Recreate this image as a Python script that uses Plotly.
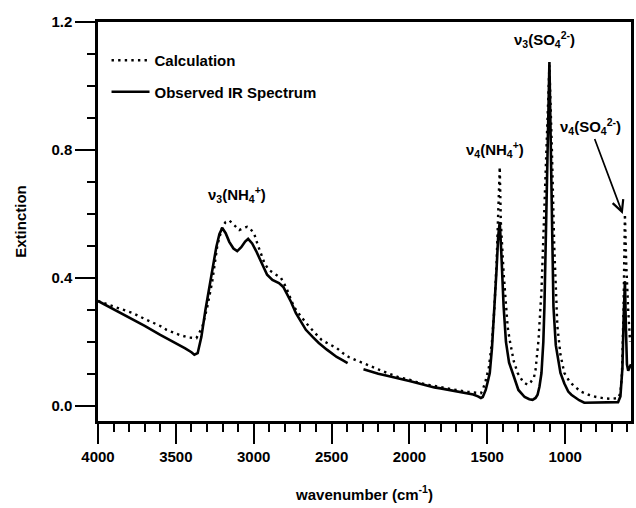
import plotly.graph_objects as go

# Wavenumber grid (cm^-1) and extinction for the measured spectrum.
# A None value leaves the gap around 2350 cm^-1 (CO2 region removed).
obs_wn = [4000, 3900, 3800, 3700, 3600, 3500, 3440, 3400, 3381, 3360, 3336, 3310,
          3285, 3260, 3240, 3220, 3202, 3180, 3157, 3130, 3106, 3080, 3055, 3036,
          3010, 2985, 2966, 2940, 2914, 2880, 2838, 2810, 2793, 2760, 2729, 2700,
          2665, 2620, 2582, 2530, 2467, 2430, 2397, 2350, 2295, 2250, 2200, 2150,
          2100, 2071, 2040, 2000, 1950, 1900, 1880, 1840, 1800, 1750, 1700, 1660,
          1625, 1590, 1560, 1541, 1529, 1510, 1495, 1484, 1470, 1460, 1452, 1440,
          1430, 1420, 1410, 1395, 1380, 1360, 1337, 1300, 1260, 1230, 1209, 1190,
          1177, 1165, 1152, 1140, 1133, 1120, 1110, 1101, 1090, 1075, 1060, 1045,
          1030, 1005, 980, 960, 941, 910, 877, 820, 760, 700, 660, 645, 632, 624,
          616, 610, 603, 595, 585, 577]
obs_ext = [0.328, 0.302, 0.277, 0.250, 0.222, 0.197, 0.180, 0.168, 0.160, 0.165, 0.216, 0.300,
           0.372, 0.440, 0.497, 0.538, 0.556, 0.540, 0.513, 0.492, 0.484, 0.496, 0.514, 0.522,
           0.508, 0.485, 0.466, 0.438, 0.410, 0.394, 0.384, 0.372, 0.357, 0.325, 0.290, 0.265,
           0.238, 0.215, 0.197, 0.176, 0.153, 0.143, 0.134, None, 0.115, 0.108, 0.101, 0.095,
           0.090, 0.086, 0.083, 0.078, 0.072, 0.066, 0.062, 0.058, 0.055, 0.051, 0.047, 0.043,
           0.040, 0.036, 0.030, 0.025, 0.028, 0.050, 0.080, 0.103, 0.180, 0.260, 0.310, 0.430,
           0.530, 0.575, 0.480, 0.310, 0.200, 0.135, 0.103, 0.050, 0.028, 0.021, 0.019, 0.025,
           0.035, 0.060, 0.103, 0.200, 0.310, 0.600, 0.900, 1.075, 0.750, 0.310, 0.190, 0.140,
           0.103, 0.070, 0.045, 0.035, 0.028, 0.018, 0.010, 0.010, 0.010, 0.010, 0.012, 0.030,
           0.120, 0.280, 0.390, 0.250, 0.130, 0.110, 0.120, 0.130]

# Calculated extinction spectrum.
calc_wn = [4000, 3900, 3776, 3700, 3600, 3560, 3476, 3420, 3368, 3330, 3298, 3266,
           3234, 3202, 3180, 3157, 3125, 3093, 3065, 3042, 3020, 2998, 2975, 2953,
           2930, 2902, 2860, 2825, 2793, 2765, 2742, 2700, 2665, 2610, 2563, 2510,
           2467, 2430, 2390, 2340, 2295, 2200, 2100, 2071, 2000, 1950, 1880, 1800,
           1700, 1625, 1570, 1541, 1529, 1510, 1490, 1470, 1455, 1440, 1430, 1420,
           1413, 1395, 1369, 1356, 1330, 1305, 1270, 1241, 1220, 1200, 1190, 1171,
           1152, 1135, 1120, 1101, 1085, 1070, 1050, 1030, 1005, 970, 941, 900,
           850, 800, 750, 700, 660, 645, 635, 625, 616, 608, 595, 583]
calc_ext = [0.328, 0.310, 0.290, 0.272, 0.250, 0.238, 0.222, 0.214, 0.212, 0.247, 0.310, 0.390,
            0.500, 0.560, 0.575, 0.580, 0.565, 0.550, 0.556, 0.560, 0.552, 0.540, 0.505, 0.472,
            0.445, 0.425, 0.410, 0.400, 0.372, 0.340, 0.310, 0.282, 0.260, 0.230, 0.206, 0.192,
            0.181, 0.166, 0.153, 0.142, 0.134, 0.114, 0.096, 0.090, 0.082, 0.074, 0.066, 0.058,
            0.050, 0.044, 0.042, 0.040, 0.050, 0.080, 0.120, 0.200, 0.300, 0.450, 0.600, 0.747,
            0.575, 0.415, 0.247, 0.206, 0.140, 0.103, 0.075, 0.066, 0.075, 0.090, 0.113, 0.206,
            0.360, 0.600, 0.850, 1.065, 0.800, 0.500, 0.250, 0.160, 0.103, 0.075, 0.062, 0.045,
            0.035, 0.028, 0.024, 0.022, 0.025, 0.040, 0.100, 0.300, 0.600, 0.450, 0.300, 0.200]

# Band assignment labels: (text, wavenumber, extinction)
band_labels = [
    ("ν<sub>3</sub>(NH<sub>4</sub><sup>+</sup>)", 3106, 0.66),
    ("ν<sub>4</sub>(NH<sub>4</sub><sup>+</sup>)", 1452, 0.80),
    ("ν<sub>3</sub>(SO<sub>4</sub><sup>2-</sup>)", 1133, 1.145),
]
arrow_label = ("ν<sub>4</sub>(SO<sub>4</sub><sup>2-</sup>)", 839, 0.872, 630, 0.60)

x_range = [4000, 577]
y_range = [-0.047, 1.2]

FONT = "Liberation Sans, Arial, sans-serif"
TXT = dict(family=FONT, size=15, color="black", weight="bold")

fig = go.Figure()
fig.add_trace(go.Scatter(
    x=obs_wn, y=obs_ext, mode="lines", name="Observed IR Spectrum",
    line=dict(color="black", width=2.6), connectgaps=False,
    legendgroup="obs", legendrank=2,
))
fig.add_trace(go.Scatter(
    x=calc_wn, y=calc_ext, mode="lines", name="Calculation",
    line=dict(color="black", width=2.4, dash="2.4px,4.2px"),
    legendgroup="calc", legendrank=1,
))
# Transparent copy on the overlay axes that carry the short (minor) ticks
fig.add_trace(go.Scatter(
    x=obs_wn, y=obs_ext, xaxis="x2", yaxis="y2", mode="lines",
    line=dict(width=0), opacity=0, showlegend=False, hoverinfo="skip",
))

for text, xv, yv in band_labels:
    fig.add_annotation(x=xv, y=yv, text=text, showarrow=False, font=TXT)

t, tx, ty, px, py = arrow_label
fig.add_annotation(x=px, y=py, ax=tx, ay=ty, axref="x", ayref="y", text=t,
                   showarrow=True, arrowhead=5, arrowsize=1.3, arrowwidth=1.7,
                   arrowcolor="black", standoff=0, font=TXT)

fig.update_layout(
    width=636, height=508,
    margin=dict(l=98, r=2, t=22, b=87),
    paper_bgcolor="white", plot_bgcolor="white",
    font=TXT,
    showlegend=True,
    legend=dict(x=0.016, y=0.945, xanchor="left", yanchor="top",
                bgcolor="rgba(0,0,0,0)", traceorder="grouped",
                tracegroupgap=9, font=TXT, itemwidth=38),
    # Main axes: frame, long major ticks and labels
    xaxis=dict(
        range=x_range, tickmode="linear", tick0=0, dtick=500,
        ticks="outside", ticklen=20, tickwidth=2, tickcolor="black",
        showline=True, linewidth=2.5, linecolor="black", mirror=True,
        showgrid=False, zeroline=False,
        title=dict(text="wavenumber (cm<sup>-1</sup>)", standoff=26, font=TXT),
        tickfont=TXT,
    ),
    yaxis=dict(
        range=y_range, tickmode="linear", tick0=0, dtick=0.4, tickformat=".1f",
        ticks="outside", ticklen=20, tickwidth=2, tickcolor="black",
        showline=True, linewidth=2.5, linecolor="black", mirror=True,
        showgrid=False, zeroline=False,
        title=dict(text="Extinction", standoff=22, font=TXT),
        tickfont=TXT,
    ),
    # Overlay axes: short ticks every 100 cm^-1 and every 0.1
    xaxis2=dict(
        range=x_range, overlaying="x", anchor="y2", side="bottom",
        tickmode="linear", tick0=0, dtick=100, ticks="outside", ticklen=10,
        tickwidth=2, tickcolor="black", showticklabels=False,
        showline=False, showgrid=False, zeroline=False,
    ),
    yaxis2=dict(
        range=y_range, overlaying="y", anchor="x2", side="left",
        tickmode="linear", tick0=0, dtick=0.1, ticks="outside", ticklen=10,
        tickwidth=2, tickcolor="black", showticklabels=False,
        showline=False, showgrid=False, zeroline=False,
    ),
)

fig.write_html("out.html")
